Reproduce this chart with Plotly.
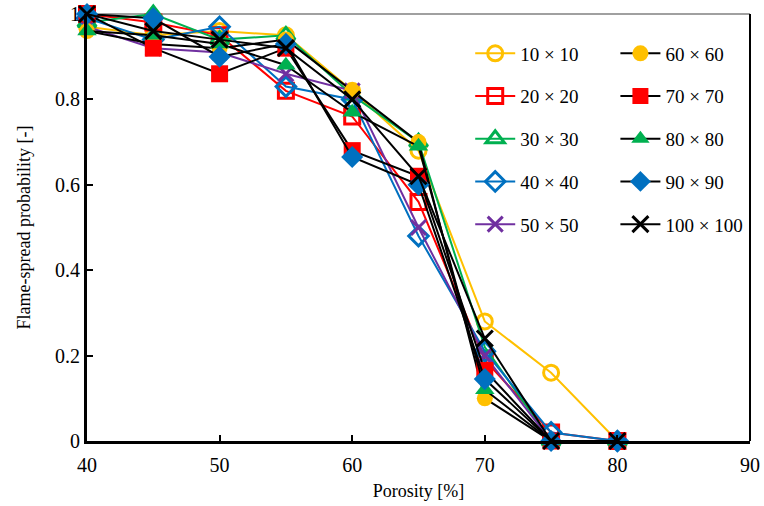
import plotly.graph_objects as go

porosity = [40, 45, 50, 55, 60, 65, 70, 75, 80]

labels = ["10 × 10", "20 × 20", "30 × 30", "40 × 40", "50 × 50",
          "60 × 60", "70 × 70", "80 × 80", "90 × 90", "100 × 100"]

p10 = [0.97, 0.95, 0.96, 0.95, 0.82, 0.68, 0.28, 0.16, 0.0]
p20 = [1.00, 0.98, 0.95, 0.82, 0.76, 0.56, 0.19, 0.02, 0.0]
p30 = [0.98, 1.00, 0.94, 0.95, 0.81, 0.70, 0.22, 0.00, 0.0]
p40 = [0.99, 0.94, 0.97, 0.83, 0.80, 0.48, 0.21, 0.02, 0.0]
p50 = [0.97, 0.92, 0.91, 0.86, 0.82, 0.50, 0.20, 0.00, 0.0]
p60 = [0.96, 0.93, 0.92, 0.94, 0.82, 0.70, 0.10, 0.00, 0.0]
p70 = [1.00, 0.92, 0.86, 0.92, 0.68, 0.62, 0.165, 0.00, 0.0]
p80 = [0.96, 0.95, 0.93, 0.88, 0.77, 0.69, 0.12, 0.00, 0.0]
p90 = [1.00, 0.99, 0.90, 0.93, 0.665, 0.60, 0.145, 0.00, 0.0]
p100 = [1.00, 0.96, 0.94, 0.92, 0.80, 0.62, 0.24, 0.00, 0.0]

series = [p10, p20, p30, p40, p50, p60, p70, p80, p90, p100]

YEL, RED, GRN, BLU, PUR, BLK = "#FFC000", "#FF0000", "#00B050", "#0070C0", "#7030A0", "#000000"
line_colors = [YEL, RED, GRN, BLU, PUR, BLK, BLK, BLK, BLK, BLK]
marker_colors = [YEL, RED, GRN, BLU, PUR, YEL, RED, GRN, BLU, BLK]
symbols = ["circle-open", "square-open", "triangle-up-open", "diamond-open", "x-thin-open",
           "circle", "square", "triangle-up", "diamond", "x-thin-open"]
sizes = [15, 15, 16, 15, 15, 16, 17, 17, 17, 16]

fig = go.Figure()
for i, (lab, vals) in enumerate(zip(labels, series)):
    open_sym = symbols[i].endswith("open")
    fig.add_trace(go.Scatter(
        x=porosity, y=vals, name=lab, mode="lines+markers",
        line=dict(color=line_colors[i], width=2),
        marker=dict(symbol=symbols[i], size=sizes[i], color=marker_colors[i],
                    line=dict(color=marker_colors[i], width=3 if open_sym else 0)),
        cliponaxis=False,
        legend="legend" if i < 5 else "legend2",
        legendgroup=lab,
    ))

font_family = "Liberation Serif, Times New Roman, serif"
leg_common = dict(
    font=dict(family=font_family, size=19, color="black"),
    bgcolor="rgba(0,0,0,0)", tracegroupgap=15, traceorder="grouped",
    yanchor="top", xanchor="left", y=0.952, itemwidth=40,
)

fig.update_layout(
    width=764, height=506,
    margin=dict(l=87, r=14, t=14, b=65),
    paper_bgcolor="white", plot_bgcolor="white",
    font=dict(family=font_family, size=19, color="black"),
    showlegend=True,
    legend=dict(x=0.578, **leg_common),
    legend2=dict(x=0.797, **leg_common),
    xaxis=dict(range=[40, 90], dtick=10, tick0=40, ticks="inside", ticklen=6, tickwidth=2,
               tickcolor="black", showline=True, linecolor="black", linewidth=3,
               showgrid=False, zeroline=False, automargin=False, ticklabelstandoff=4,
               ticklabeloverflow="allow",
               title=dict(text="Porosity [%]", font=dict(size=18), standoff=10),
               tickfont=dict(size=20)),
    yaxis=dict(range=[0, 1], dtick=0.2, ticks="inside", ticklen=6, tickwidth=2,
               tickcolor="black", showline=True, linecolor="black", linewidth=3,
               showgrid=False, zeroline=False, automargin=False,
               ticklabeloverflow="allow",
               title=dict(text="Flame-spread probability [-]", font=dict(size=18), standoff=20),
               tickfont=dict(size=20)),
    shapes=[
        dict(type="line", xref="x domain", yref="y domain", x0=0, x1=1, y0=1, y1=1,
             line=dict(color="#808080", width=1.5), layer="below"),
        dict(type="line", xref="x domain", yref="y domain", x0=1, x1=1, y0=0, y1=1,
             line=dict(color="black", width=2), layer="below"),
    ],
)

# remove the page's default 8px body margin so the 764x506 figure fills the window
fig.write_html("out.html", config={"displayModeBar": False},
               post_script="document.body.style.margin='0';document.body.style.overflow='hidden';")
